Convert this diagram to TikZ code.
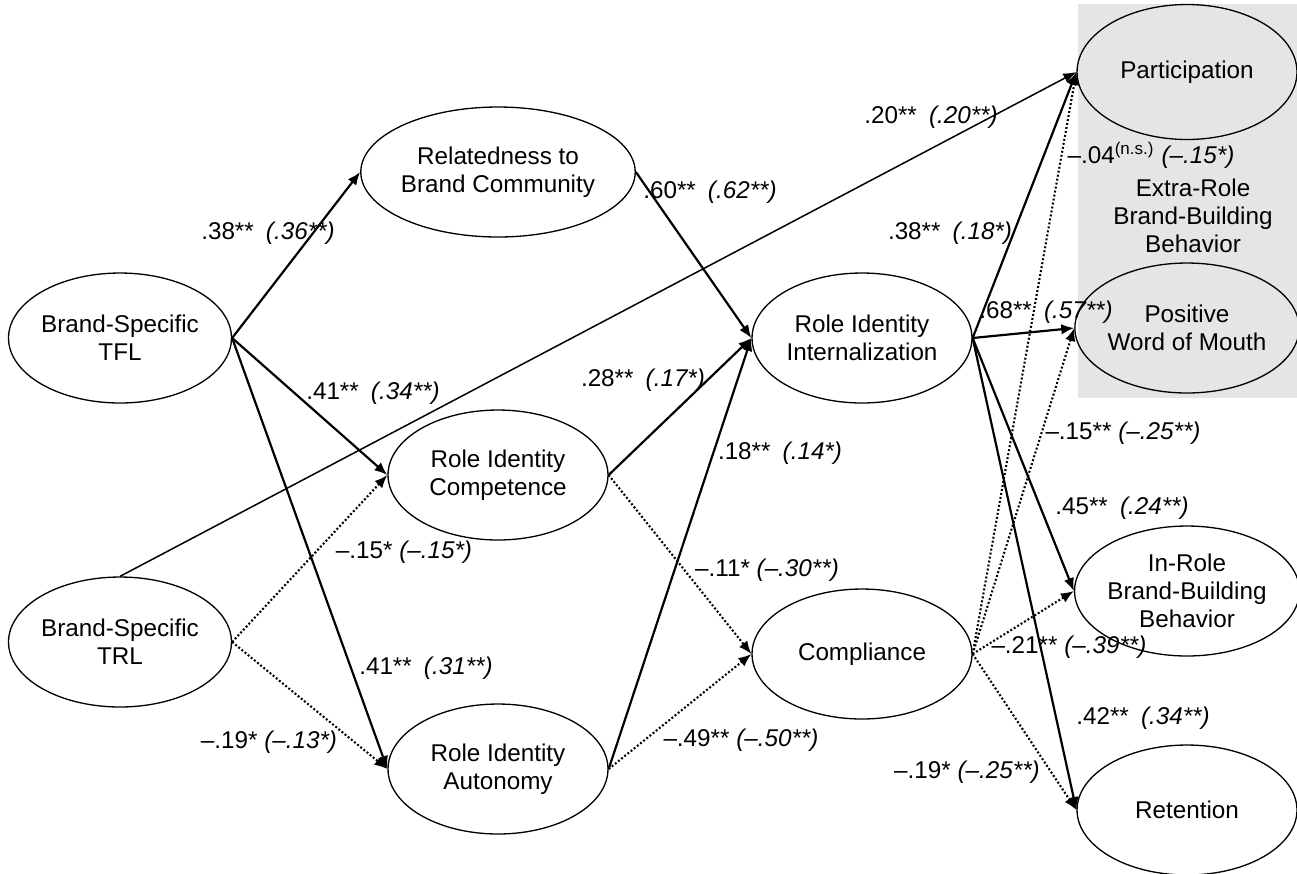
\documentclass[tikz,border=0pt]{standalone}
\usepackage{fontspec}
\setmainfont{Liberation Sans}
\usepackage{xcolor}
\usepackage{tikz}
\usetikzlibrary{arrows.meta,shapes}

\definecolor{panelgray}{RGB}{229,229,229}

\begin{document}
\begin{tikzpicture}[x=0.02cm,y=-0.02cm,>={Latex[length=2.6mm,width=2.1mm]},
construct/.style={draw,ellipse,line width=0.75pt,minimum width=4.4cm,minimum height=2.6cm,inner sep=0pt,align=center,font=\fontsize{13.8}{16}\selectfont},
posarrow/.style={->,line width=1.25pt},
negarrow/.style={->,line width=1.2pt,dash pattern=on 1.1pt off 1.2pt},
coef/.style={inner sep=0pt,font=\fontsize{13.8}{16}\selectfont}]
\useasboundingbox(0,0)rectangle(1297,873);
\fill[panelgray](1078,4)rectangle(1297,398);
\node[construct](tfl)at(120,338){Brand-Specific\\TFL};
\node[construct](trl)at(120,642){Brand-Specific\\TRL};
\node[construct](rel)at(498,172){Relatedness to\\Brand Community};
\node[construct](comp)at(498,475){Role Identity\\Competence};
\node[construct](auton)at(498,769){Role Identity\\Autonomy};
\node[construct](intl)at(862,338){Role Identity\\Internalization};
\node[construct](cmpl)at(862,654){Compliance};
\node[construct,minimum height=2.7cm](part)at(1187,72){Participation};
\node[construct](wom)at(1187,328){Positive\\Word of Mouth};
\node[construct](inrole)at(1187,591){In-Role\\Brand-Building\\Behavior};
\node[construct](ret)at(1187,810){Retention};
\node[coef,align=center](extra)at(1193,216){Extra-Role\\Brand-Building\\Behavior};
\draw[posarrow](tfl.east)--(rel.west);
\draw[posarrow](tfl.east)--(comp.west);
\draw[posarrow](tfl.east)--(auton.west);
\draw[posarrow,line width=0.85pt](trl.north)--(part.west);
\draw[negarrow](trl.east)--(comp.west);
\draw[negarrow](trl.east)--(auton.west);
\draw[posarrow](rel.east)--(intl.west);
\draw[posarrow](comp.east)--(intl.west);
\draw[negarrow](comp.east)--(cmpl.west);
\draw[posarrow](auton.east)--(intl.west);
\draw[negarrow](auton.east)--(cmpl.west);
\draw[posarrow](intl.east)--(part.west);
\draw[posarrow](intl.east)--(wom.west);
\draw[posarrow](intl.east)--(inrole.west);
\draw[posarrow](intl.east)--(ret.west);
\draw[negarrow](cmpl.east)--(part.west);
\draw[negarrow](cmpl.east)--(wom.west);
\draw[negarrow](cmpl.east)--(inrole.west);
\draw[negarrow](cmpl.east)--(ret.west);
\node[coef](c1)at(268,233){.38**\hspace{0.5em}\textit{(.36**)}};
\node[coef](c2)at(373,393){.41**\hspace{0.5em}\textit{(.34**)}};
\node[coef](c3)at(426,668){.41**\hspace{0.5em}\textit{(.31**)}};
\node[coef](c4)at(404,552){–.15* \textit{(–.15*)}};
\node[coef](c5)at(269,742){–.19* \textit{(–.13*)}};
\node[coef](c6)at(710,192){.60**\hspace{0.5em}\textit{(.62**)}};
\node[coef](c7)at(643,380){.28**\hspace{0.5em}\textit{(.17*)}};
\node[coef](c8)at(780,453){.18**\hspace{0.5em}\textit{(.14*)}};
\node[coef](c9)at(767,570){–.11* \textit{(–.30**)}};
\node[coef](c10)at(741,740){–.49** \textit{(–.50**)}};
\node[coef](c11)at(931,117){.20**\hspace{0.5em}\textit{(.20**)}};
\node[coef](c12)at(1151,155){–.04\textsuperscript{(n.s.)}\hspace{0.3em}\textit{(–.15*)}};
\node[coef](c13)at(950,233){.38**\hspace{0.5em}\textit{(.18*)}};
\node[coef](c14)at(1046,312){.68**\hspace{0.5em}\textit{(.57**)}};
\node[coef](c15)at(1123,433){–.15** \textit{(–.25**)}};
\node[coef](c16)at(1122,508){.45**\hspace{0.5em}\textit{(.24**)}};
\node[coef](c17)at(1069,647){–.21** \textit{(–.39**)}};
\node[coef](c18)at(1143,718){.42**\hspace{0.5em}\textit{(.34**)}};
\node[coef](c19)at(967,772){–.19* \textit{(–.25**)}};
\end{tikzpicture}
\end{document}
